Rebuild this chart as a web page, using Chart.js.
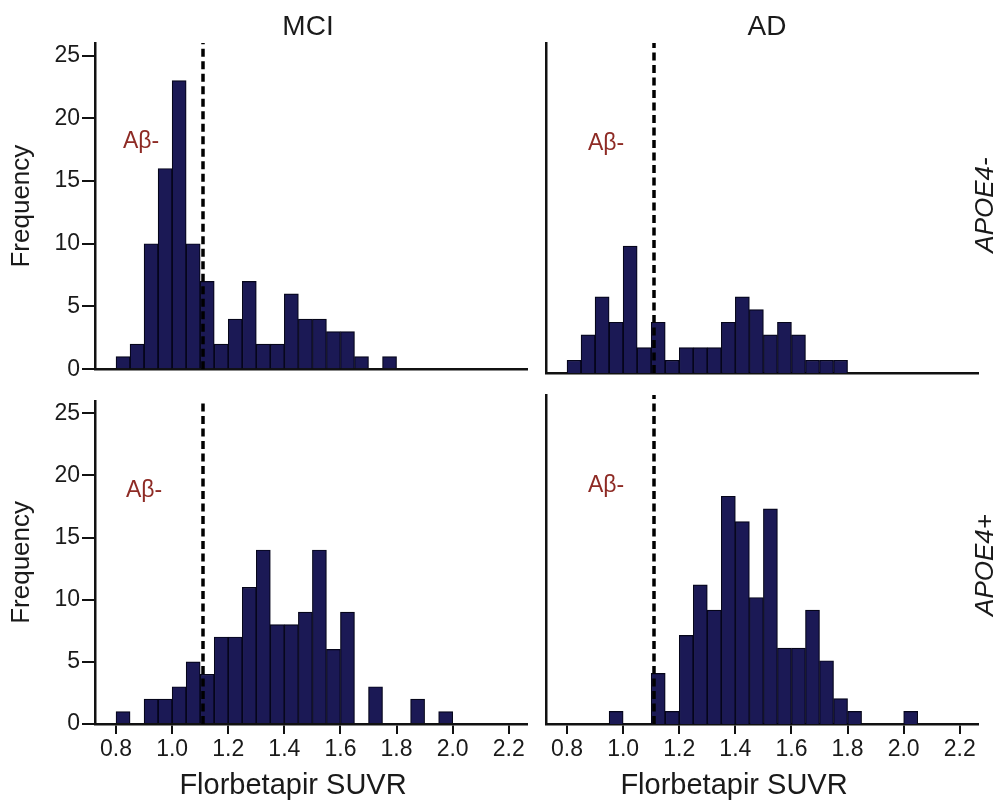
<!DOCTYPE html>
<html>
<head>
<meta charset="utf-8">
<script src="https://cdn.jsdelivr.net/npm/chart.js@4.4.1/dist/chart.umd.min.js"></script>
<style>
  body { margin: 0; background: #fff; }
  #wrap { position: relative; width: 996px; height: 806px; overflow: hidden; font-family: 'Liberation Sans', Arial, sans-serif; color: #1a1a1a; }
  .panel { position: absolute; }
  .lbl { position: absolute; transform: translate(-50%, -50%); white-space: nowrap; }
  .rot { transform: translate(-50%, -50%) rotate(-90deg); font-style: italic; }
</style>
</head>
<body>
<div id="wrap">
  <div class="panel" style="left:0; top:0; width:530px; height:385px;"><canvas id="mciNegChart"></canvas></div>
  <div class="panel" style="left:530px; top:0; width:466px; height:385px;"><canvas id="adNegChart"></canvas></div>
  <div class="panel" style="left:0; top:385px; width:530px; height:421px;"><canvas id="mciPosChart"></canvas></div>
  <div class="panel" style="left:530px; top:385px; width:466px; height:421px;"><canvas id="adPosChart"></canvas></div>
  <div class="lbl" style="left:308px; top:26px; font-size:28px;">MCI</div>
  <div class="lbl" style="left:767px; top:26px; font-size:28px;">AD</div>
  <div class="lbl rot" style="left:984px; top:205px; font-size:26px;">APOE4-</div>
  <div class="lbl rot" style="left:984px; top:565px; font-size:26px;">APOE4+</div>
  <div class="lbl" style="left:293px; top:784px; font-size:29px;">Florbetapir SUVR</div>
  <div class="lbl" style="left:734px; top:784px; font-size:29px;">Florbetapir SUVR</div>
</div>
<script>
// bin centres of the 0.05-wide SUVR bins (0.80 ... 2.05)
const binCenters = [0.825, 0.875, 0.925, 0.975, 1.025, 1.075, 1.125, 1.175, 1.225, 1.275,
                    1.325, 1.375, 1.425, 1.475, 1.525, 1.575, 1.625, 1.675, 1.725, 1.775,
                    1.825, 1.875, 1.925, 1.975, 2.025];

// frequencies per bin
const mciNeg = [1, 2, 10, 16, 23, 10, 7, 2, 4, 7, 2, 2, 6, 4, 4, 3, 3, 1, 0, 1, 0, 0, 0, 0, 0];
const adNeg  = [1, 3, 6, 4, 10, 2, 4, 1, 2, 2, 2, 4, 6, 5, 3, 4, 3, 1, 1, 1, 0, 0, 0, 0, 0];
const mciPos = [1, 0, 2, 2, 3, 5, 4, 7, 7, 11, 14, 8, 8, 9, 14, 6, 9, 0, 3, 0, 0, 2, 0, 1, 0];
const adPos  = [0, 0, 0, 1, 0, 0, 4, 1, 7, 11, 9, 18, 16, 10, 17, 6, 6, 9, 5, 2, 1, 0, 0, 0, 1];

const cutoff = 1.11;
const xTicks = [0.8, 1.0, 1.2, 1.4, 1.6, 1.8, 2.0, 2.2];
const yTicks = [0, 5, 10, 15, 20, 25];

const FONT = "'Liberation Sans', Arial, sans-serif";
const INK = '#1a1a1a';

Chart.defaults.font.family = FONT;
Chart.defaults.color = INK;

// the red "Aβ-" note, placed in data units
const abLabel = {
    id: 'abLabel',
    afterDatasetsDraw(chart, args, opts) {
        const { ctx, scales: { x, y } } = chart;
        ctx.save();
        ctx.font = '23px ' + FONT;
        ctx.fillStyle = '#8e2b25';
        ctx.textAlign = 'center';
        ctx.textBaseline = 'middle';
        ctx.fillText('A\u03b2-', x.getPixelForValue(opts.x), y.getPixelForValue(opts.y));
        ctx.restore();
    }
};

function makeChart(id, values, cfg) {
    const ctx = document.getElementById(id).getContext('2d');
    return new Chart(ctx, {
        type: 'bar',
        data: {
            datasets: [
                {
                    type: 'line',
                    data: [{ x: cutoff, y: 0 }, { x: cutoff, y: 26 }],
                    borderColor: '#000',
                    borderWidth: 3.5,
                    borderDash: [8, 4.5],
                    pointRadius: 0,
                    order: 0
                },
                {
                    data: binCenters.map((c, i) => ({ x: c, y: values[i] })),
                    backgroundColor: '#1b1955',
                    borderColor: '#05051a',
                    borderWidth: 1.2,
                    barPercentage: 1,
                    categoryPercentage: 1,
                    order: 1
                }
            ]
        },
        options: {
            responsive: true,
            maintainAspectRatio: false,
            animation: false,
            events: [],
            layout: { padding: { top: cfg.padTop, right: cfg.padRight, left: 0, bottom: 0 } },
            plugins: {
                legend: { display: false },
                tooltip: { enabled: false },
                abLabel: cfg.label
            },
            scales: {
                x: {
                    type: 'linear',
                    min: 0.725,
                    max: 2.265,
                    offset: false,
                    afterBuildTicks: s => { s.ticks = xTicks.map(v => ({ value: v })); },
                    afterFit: s => { s.height = cfg.xHeight; },
                    ticks: {
                        display: cfg.xTicks,
                        font: { size: 23 },
                        color: INK,
                        padding: 2,
                        maxRotation: 0,
                        callback: v => v.toFixed(1)
                    },
                    grid: {
                        display: cfg.xTicks,
                        drawOnChartArea: false,
                        tickLength: 10,
                        color: '#111',
                        lineWidth: 2,
                        offset: false
                    },
                    border: { color: '#111', width: 2.5 }
                },
                y: {
                    min: 0,
                    max: 26,
                    afterBuildTicks: s => { s.ticks = yTicks.map(v => ({ value: v })); },
                    afterFit: s => { s.width = cfg.yWidth; },
                    ticks: {
                        display: cfg.yTicks,
                        font: { size: 23 },
                        color: INK,
                        padding: 2
                    },
                    grid: {
                        display: cfg.yTicks,
                        drawOnChartArea: false,
                        tickLength: 13,
                        color: '#111',
                        lineWidth: 2
                    },
                    border: { color: '#111', width: 2.5 },
                    title: {
                        display: cfg.yTicks,
                        text: 'Frequency',
                        font: { size: 26 },
                        color: INK,
                        padding: { top: 6, bottom: 0 }
                    }
                }
            }
        },
        plugins: [abLabel]
    });
}

makeChart('mciNegChart', mciNeg, { padTop: 43, padRight: 3, yWidth: 95, xHeight: 12, xTicks: false, yTicks: true, label: { x: 0.889, y: 18.1 } });
makeChart('adNegChart', adNeg, { padTop: 43, padRight: 18, yWidth: 16, xHeight: 12, xTicks: false, yTicks: false, label: { x: 0.939, y: 18.1 } });
makeChart('mciPosChart', mciPos, { padTop: 10, padRight: 3, yWidth: 95, xHeight: 82, xTicks: true, yTicks: true, label: { x: 0.900, y: 18.8 } });
makeChart('adPosChart', adPos, { padTop: 10, padRight: 18, yWidth: 16, xHeight: 82, xTicks: true, yTicks: false, label: { x: 0.939, y: 18.8 } });
</script>
</body>
</html>
